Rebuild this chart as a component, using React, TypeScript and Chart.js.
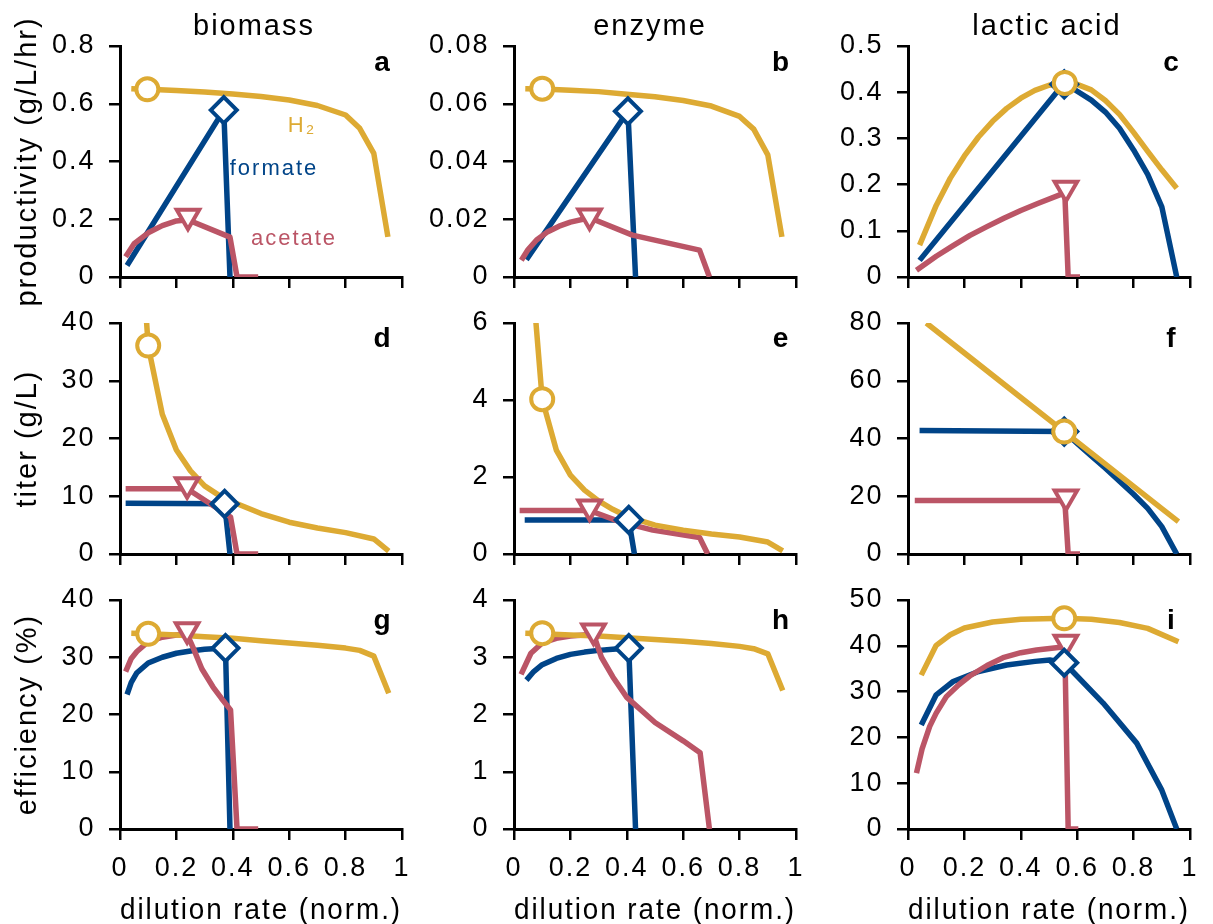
import React, { useEffect, useRef } from 'react';
import { Chart, registerables } from 'chart.js';

Chart.register(...registerables);

type P = [number, number];

// ---------- data (x = normalized dilution rate) ----------
// a: biomass productivity
const aH2: P[] = [[0.04, 0.652], [0.1, 0.65], [0.2, 0.646], [0.3, 0.641], [0.4, 0.634], [0.5, 0.625], [0.6, 0.613], [0.7, 0.594], [0.8, 0.561], [0.85, 0.515], [0.9, 0.428], [0.95, 0.139]];
const aFormate: P[] = [[0.025, 0.04], [0.368, 0.578], [0.39, 0]];
const aAcetate: P[] = [[0.02, 0.07], [0.05, 0.115], [0.1, 0.153], [0.15, 0.178], [0.2, 0.194], [0.24, 0.198], [0.39, 0.138], [0.415, 0], [0.49, 0]];
const aMarks: P[] = [[0.097, 0.65], [0.368, 0.578], [0.241, 0.21]];

// b: enzyme productivity
const bH2: P[] = [[0.04, 0.0652], [0.1, 0.0651], [0.2, 0.0647], [0.3, 0.0642], [0.4, 0.0633], [0.5, 0.0624], [0.6, 0.0611], [0.7, 0.0592], [0.8, 0.0556], [0.85, 0.0512], [0.9, 0.0423], [0.95, 0.0139]];
const bFormate: P[] = [[0.044, 0.006], [0.404, 0.0574], [0.431, 0]];
const bAcetate: P[] = [[0.026, 0.0058], [0.05, 0.0095], [0.08, 0.0128], [0.12, 0.0157], [0.16, 0.0176], [0.2, 0.019], [0.268, 0.0205], [0.42, 0.0145], [0.658, 0.0093], [0.693, 0]];
const bMarks: P[] = [[0.1, 0.0652], [0.404, 0.0574], [0.268, 0.0211]];

// c: lactic acid productivity
const cH2: P[] = [[0.041, 0.069], [0.1, 0.155], [0.15, 0.214], [0.2, 0.262], [0.25, 0.303], [0.3, 0.337], [0.35, 0.365], [0.4, 0.387], [0.45, 0.404], [0.5, 0.415], [0.556, 0.42], [0.6, 0.417], [0.65, 0.405], [0.7, 0.382], [0.75, 0.352], [0.8, 0.313], [0.85, 0.272], [0.9, 0.232], [0.953, 0.192]];
const cFormate: P[] = [[0.041, 0.036], [0.554, 0.42], [0.6, 0.402], [0.65, 0.383], [0.7, 0.357], [0.75, 0.322], [0.8, 0.275], [0.85, 0.222], [0.9, 0.152], [0.953, 0]];
const cAcetate: P[] = [[0.03, 0.0145], [0.1, 0.045], [0.16, 0.068], [0.22, 0.09], [0.28, 0.109], [0.34, 0.127], [0.4, 0.144], [0.46, 0.159], [0.556, 0.182], [0.568, 0], [0.61, 0]];
const cMarks: P[] = [[0.556, 0.42], [0.554, 0.417], [0.56, 0.192]];

// d: biomass titer
const dH2: P[] = [[0.05, 72], [0.1, 36], [0.15, 24.2], [0.2, 18], [0.25, 14.4], [0.3, 11.8], [0.35, 10.2], [0.4, 9.0], [0.5, 7.0], [0.6, 5.5], [0.7, 4.5], [0.8, 3.7], [0.9, 2.6], [0.953, 0.5]];
const dFormate: P[] = [[0.02, 8.8], [0.371, 8.7], [0.39, 0]];
const dAcetate: P[] = [[0.02, 11.3], [0.238, 11.3], [0.392, 6.4], [0.415, 0], [0.49, 0]];
const dMarks: P[] = [[0.1, 36.1], [0.371, 8.67], [0.238, 12]];

// e: enzyme titer
const eH2: P[] = [[0.05, 8.5], [0.1, 4.02], [0.15, 2.7], [0.2, 2.05], [0.25, 1.66], [0.3, 1.38], [0.35, 1.16], [0.4, 0.98], [0.5, 0.75], [0.6, 0.62], [0.7, 0.52], [0.8, 0.44], [0.9, 0.31], [0.953, 0.08]];
const eFormate: P[] = [[0.038, 0.88], [0.407, 0.885], [0.427, 0]];
const eAcetate: P[] = [[0.02, 1.13], [0.268, 1.13], [0.374, 0.84], [0.492, 0.62], [0.658, 0.43], [0.687, 0]];
const eMarks: P[] = [[0.1, 4.02], [0.407, 0.885], [0.268, 1.22]];

// f: lactic acid titer
const fH2: P[] = [[0.065, 80], [0.2, 69.6], [0.4, 54.2], [0.554, 42.4], [0.7, 31.1], [0.8, 23.4], [0.9, 15.7], [0.959, 11.2]];
const fFormate: P[] = [[0.041, 42.8], [0.554, 42.4], [0.6, 38.3], [0.65, 34.0], [0.7, 29.7], [0.75, 25.2], [0.8, 20.7], [0.85, 15.8], [0.9, 9.5], [0.953, 0]];
const fAcetate: P[] = [[0.024, 18.5], [0.556, 18.5], [0.568, 0], [0.61, 0]];
const fMarks: P[] = [[0.554, 42.4], [0.554, 42.4], [0.56, 19.7]];

// g: biomass efficiency
const gH2: P[] = [[0.04, 34.2], [0.1, 34.1], [0.2, 33.9], [0.3, 33.6], [0.4, 33.3], [0.5, 32.9], [0.6, 32.5], [0.7, 32.1], [0.8, 31.6], [0.85, 31.2], [0.9, 30.2], [0.953, 23.7]];
const gFormate: P[] = [[0.025, 23.5], [0.04, 25.6], [0.06, 27.3], [0.1, 29.0], [0.15, 30.0], [0.2, 30.7], [0.25, 31.1], [0.3, 31.4], [0.374, 31.6], [0.39, 0]];
const gAcetate: P[] = [[0.02, 27.5], [0.04, 29.8], [0.06, 31.0], [0.1, 32.7], [0.15, 33.5], [0.2, 33.9], [0.238, 34.0], [0.26, 31.6], [0.29, 28.0], [0.33, 24.8], [0.36, 22.8], [0.392, 20.8], [0.415, 0], [0.49, 0]];
const gMarks: P[] = [[0.1, 34.1], [0.374, 31.6], [0.238, 34.8]];

// h: enzyme efficiency
const hH2: P[] = [[0.04, 3.42], [0.1, 3.41], [0.2, 3.39], [0.3, 3.37], [0.4, 3.34], [0.5, 3.31], [0.6, 3.28], [0.7, 3.24], [0.8, 3.19], [0.85, 3.15], [0.9, 3.06], [0.953, 2.42]];
const hFormate: P[] = [[0.044, 2.6], [0.07, 2.75], [0.1, 2.87], [0.15, 2.98], [0.2, 3.05], [0.25, 3.09], [0.3, 3.12], [0.35, 3.14], [0.407, 3.16], [0.431, 0]];
const hAcetate: P[] = [[0.025, 2.7], [0.06, 3.07], [0.1, 3.25], [0.15, 3.33], [0.2, 3.37], [0.282, 3.4], [0.31, 3.0], [0.35, 2.66], [0.4, 2.3], [0.5, 1.86], [0.6, 1.54], [0.66, 1.33], [0.693, 0]];
const hMarks: P[] = [[0.1, 3.42], [0.407, 3.16], [0.282, 3.46]];

// i: lactic acid efficiency
const iH2: P[] = [[0.047, 33.6], [0.1, 40.1], [0.15, 42.4], [0.2, 43.9], [0.3, 45.2], [0.4, 45.8], [0.554, 46.0], [0.65, 45.8], [0.75, 45.1], [0.85, 43.8], [0.959, 40.9]];
const iFormate: P[] = [[0.047, 22.7], [0.1, 29.3], [0.16, 32.2], [0.25, 34.4], [0.35, 35.8], [0.45, 36.6], [0.503, 36.9], [0.554, 36.3], [0.692, 27.5], [0.811, 18.75], [0.899, 8.6], [0.953, 0]];
const iAcetate: P[] = [[0.03, 12.2], [0.05, 17.5], [0.077, 22.4], [0.1, 25.3], [0.136, 28.9], [0.18, 31.5], [0.219, 33.4], [0.28, 35.7], [0.337, 37.4], [0.4, 38.5], [0.456, 39.1], [0.556, 39.8], [0.568, 0], [0.604, 0]];
const iMarks: P[] = [[0.554, 46.0], [0.554, 36.3], [0.56, 40.8]];

const xTicks = [0, 0.2, 0.4, 0.6, 0.8, 1];
const colTitles = ['biomass', 'enzyme', 'lactic acid'];
const rowTitles = ['productivity (g/L/hr)', 'titer (g/L)', 'efficiency (%)'];
const letters = ['a', 'b', 'c', 'd', 'e', 'f', 'g', 'h', 'i'];
const yMaxes = [0.8, 0.08, 0.5, 40, 6, 80, 40, 4, 50];
const ySteps = [0.2, 0.02, 0.1, 10, 2, 20, 10, 1, 10];
const xTitle = 'dilution rate (norm.)';
const seriesLabels = ['H₂', 'formate', 'acetate'];

const h2Series = [aH2, bH2, cH2, dH2, eH2, fH2, gH2, hH2, iH2];
const formateSeries = [aFormate, bFormate, cFormate, dFormate, eFormate, fFormate, gFormate, hFormate, iFormate];
const acetateSeries = [aAcetate, bAcetate, cAcetate, dAcetate, eAcetate, fAcetate, gAcetate, hAcetate, iAcetate];
const markSeries = [aMarks, bMarks, cMarks, dMarks, eMarks, fMarks, gMarks, hMarks, iMarks];

// ---------- styles / layout ----------
const YELLOW = '#DDAA33';
const BLUE = '#004488';
const PINK = '#BB5566';

const PLOT_LEFT = [120, 514, 908];
const PLOT_W = 282;
const PLOT_TOP = [46, 323, 600];
const PLOT_H = [231, 231, 229];
const Y_AXIS_W = 115;
const PAD_R = 25;
const PAD_T = 45;
const X_AXIS_H = [40, 40, 106];

const LETTER_X = [383, 781.5, 1172];
const LETTER_Y = [71, 347, 629];
const COL_TITLE_X = [254, 650, 1047];
const COL_TITLE_Y = 35;
const LABEL_POS: P[] = [[302, 132], [274, 175], [294, 245]];

const TICK_FONT = { family: '"Liberation Sans", Arial, sans-serif', size: 27 };
const TITLE_FONT = { family: '"Liberation Sans", Arial, sans-serif', size: 29 };
const SPACING = '2px';

const toXY = (d: P[]) => d.map(([x, y]) => ({ x, y }));
const fmt = (v: number) => String(+Number(v).toFixed(4));

function lineDs(d: P[], color: string) {
  return {
    data: toXY(d),
    showLine: true,
    borderColor: color,
    backgroundColor: color,
    borderWidth: 5.5,
    pointRadius: 0,
    pointHoverRadius: 0,
    tension: 0,
    fill: false,
    borderJoinStyle: 'round',
    borderCapStyle: 'butt',
  };
}

function markDs(p: P, color: string, style: string, radius: number, rotation: number) {
  return {
    data: [{ x: p[0], y: p[1] }],
    showLine: false,
    pointStyle: style,
    pointRadius: radius,
    pointHoverRadius: radius,
    pointRotation: rotation,
    pointBackgroundColor: '#ffffff',
    pointBorderColor: color,
    pointBorderWidth: 4,
    clip: false,
  };
}

function Panel({ idx }: { idx: number }) {
  const ref = useRef<HTMLCanvasElement>(null);
  const row = Math.floor(idx / 3);
  const col = idx % 3;
  const left = PLOT_LEFT[col] - Y_AXIS_W;
  const top = PLOT_TOP[row] - PAD_T;
  const width = Y_AXIS_W + PLOT_W + PAD_R;
  const height = PAD_T + PLOT_H[row] + X_AXIS_H[row];

  useEffect(() => {
    const canvas = ref.current!;
    const marks = markSeries[idx];

    const textPlugin = {
      id: 'panelText',
      beforeLayout(chart: any) {
        chart.ctx.letterSpacing = SPACING;
      },
      beforeDraw(chart: any) {
        chart.ctx.letterSpacing = SPACING;
      },
      afterDraw(chart: any) {
        const ctx = chart.ctx;
        ctx.save();
        ctx.letterSpacing = SPACING;
        ctx.textBaseline = 'alphabetic';
        ctx.textAlign = 'center';
        ctx.fillStyle = '#000';
        ctx.font = 'bold 28px "Liberation Sans", Arial, sans-serif';
        ctx.fillText(letters[idx], LETTER_X[col] - left, LETTER_Y[row] - top);
        if (row === 0) {
          ctx.font = '29px "Liberation Sans", Arial, sans-serif';
          ctx.fillText(colTitles[col], COL_TITLE_X[col] - left, COL_TITLE_Y - top);
        }
        if (idx === 0) {
          const colors = [YELLOW, BLUE, PINK];
          ctx.font = '22px "Liberation Sans", Arial, sans-serif';
          seriesLabels.forEach((t, k) => {
            ctx.fillStyle = colors[k];
            ctx.fillText(t, LABEL_POS[k][0] - left, LABEL_POS[k][1] - top);
          });
        }
        ctx.restore();
      },
    };

    const chart = new Chart(canvas, {
      type: 'scatter',
      data: {
        datasets: [
          markDs(marks[0], YELLOW, 'circle', 11, 0),
          markDs(marks[1], BLUE, 'rectRot', 13, 0),
          markDs(marks[2], PINK, 'triangle', 13, 180),
          lineDs(h2Series[idx], YELLOW),
          lineDs(acetateSeries[idx], PINK),
          lineDs(formateSeries[idx], BLUE),
        ] as any,
      },
      options: {
        animation: false,
        responsive: false,
        events: [],
        layout: { padding: { left: 0, right: PAD_R, top: PAD_T, bottom: 0 } },
        plugins: {
          legend: { display: false },
          tooltip: { enabled: false },
          title: { display: false },
        },
        scales: {
          x: {
            type: 'linear',
            min: 0,
            max: 1,
            afterBuildTicks: (s: any) => {
              s.ticks = xTicks.map((v) => ({ value: v }));
            },
            ticks: {
              display: row === 2,
              font: TICK_FONT,
              color: '#000',
              padding: 12,
              autoSkip: false,
              maxRotation: 0,
              minRotation: 0,
              callback: (v: any) => fmt(v),
            },
            grid: {
              drawOnChartArea: false,
              drawTicks: true,
              tickLength: 11,
              color: '#000',
              lineWidth: 2.5,
            },
            border: { display: true, color: '#000', width: 3 },
            title: {
              display: row === 2,
              text: xTitle,
              font: TITLE_FONT,
              color: '#000',
              padding: { top: 0, bottom: 6.5 },
            },
            afterFit: (s: any) => {
              s.height = X_AXIS_H[row];
            },
          },
          y: {
            type: 'linear',
            min: 0,
            max: yMaxes[idx],
            ticks: {
              stepSize: ySteps[idx],
              font: TICK_FONT,
              color: '#000',
              padding: 13.5,
              autoSkip: false,
              callback: (v: any) => fmt(v),
            },
            grid: {
              drawOnChartArea: false,
              drawTicks: true,
              tickLength: 11,
              color: '#000',
              lineWidth: 2.5,
            },
            border: { display: true, color: '#000', width: 3 },
            title: {
              display: col === 0,
              text: rowTitles[row],
              font: TITLE_FONT,
              color: '#000',
              padding: { top: 5.5, bottom: 0 },
            },
            afterFit: (s: any) => {
              s.width = Y_AXIS_W;
            },
          },
        },
      } as any,
      plugins: [textPlugin],
    });
    return () => chart.destroy();
  }, []);

  return (
    <canvas
      ref={ref}
      width={width}
      height={height}
      style={{ position: 'absolute', left, top, width, height }}
    />
  );
}

export default function App() {
  return (
    <div
      style={{
        position: 'fixed',
        left: 0,
        top: 0,
        width: 1213,
        height: 924,
        overflow: 'hidden',
        background: '#ffffff',
      }}
    >
      {letters.map((_, i) => (
        <Panel key={i} idx={i} />
      ))}
    </div>
  );
}
